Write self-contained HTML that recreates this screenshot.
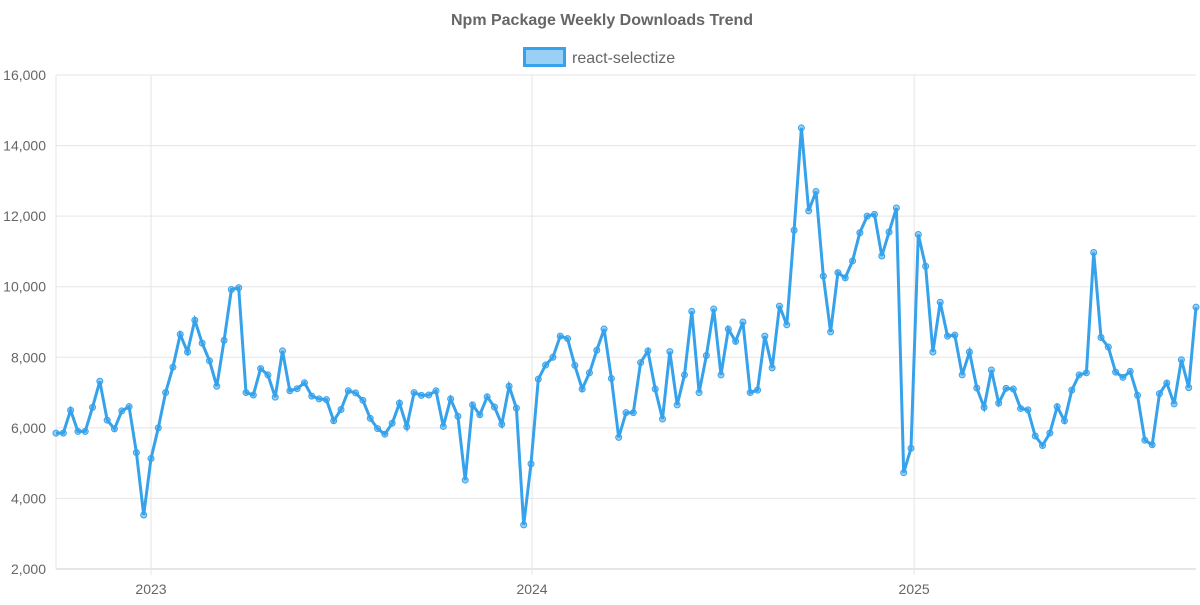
<!DOCTYPE html>
<html><head><meta charset="utf-8"><style>
body{margin:0;background:#fff;font-family:"Liberation Sans",sans-serif}
svg text{font-family:"Liberation Sans",sans-serif}
</style></head><body>
<svg id="chart" width="1200" height="600">
<text x="602" y="25" text-anchor="middle" font-size="16" font-weight="bold" fill="#666">Npm Package Weekly Downloads Trend</text>
<g>
<rect x="524.5" y="48.5" width="40" height="17" fill="rgba(54,162,235,0.5)" stroke="#36a2eb" stroke-width="3"/>
<text x="572" y="63" font-size="16" fill="#666">react-selectize</text>
</g>
<g id="grid"></g><g id="series"></g>
</svg>
<script>
const yTicks=[2000,4000,6000,8000,10000,12000,14000,16000];
const yearLabels=["2023","2024","2025"];
const values=[5850,5850,6500,5900,5900,6580,7320,6220,5970,6480,6600,5300,3530,5130,6000,7000,7720,8650,8150,9050,8400,7900,7180,8480,9920,9970,7000,6930,7680,7500,6870,8180,7050,7110,7280,6900,6820,6800,6200,6520,7050,6990,6780,6270,5980,5820,6130,6700,6030,7000,6920,6930,7050,6040,6820,6330,4520,6650,6370,6880,6590,6100,7180,6560,3250,4980,7380,7780,8000,8600,8530,7770,7100,7560,8200,8800,7400,5730,6430,6430,7850,8180,7100,6250,8160,6650,7500,9300,7000,8050,9370,7500,8800,8450,9000,7000,7070,8600,7700,9450,8920,11600,14500,12150,12700,10300,8720,10400,10250,10730,11530,12000,12050,10870,11550,12230,4730,5420,11480,10580,8150,9560,8600,8630,7500,8150,7130,6580,7640,6700,7120,7100,6550,6510,5770,5500,5850,6600,6200,7070,7500,7560,10970,8560,8290,7580,7430,7600,6920,5650,5520,6970,7270,6680,7930,7140,9420];
const startDate="2022-10-02";
const NS="http://www.w3.org/2000/svg";
const L=56,R=1196,T=75,B=569;
const t0=Date.parse(startDate),W=7*864e5,t1=t0+(values.length-1)*W;
const xT=t=>L+(t-t0)/(t1-t0)*(R-L);
const xi=i=>xT(t0+i*W);
const y=v=>B-(v-2000)/14000*(B-T);
function mk(tag,attrs,parent){const e=document.createElementNS(NS,tag);for(const k in attrs)e.setAttribute(k,attrs[k]);parent.appendChild(e);return e;}
const grid=document.getElementById('grid'),ser=document.getElementById('series');
yTicks.forEach(v=>{
 const l=mk('line',{x1:L,x2:R,y1:y(v),y2:y(v),stroke:v===2000?'#ccc':'#e5e5e5','stroke-width':1},grid);
 
 
 const t=mk('text',{x:46,y:y(v)+5,'text-anchor':'end','font-size':14,fill:'#666'},grid);
 t.textContent=v.toLocaleString('en-US');
 
 
});
mk('line',{x1:L,x2:L,y1:T,y2:B,stroke:'#e5e5e5'},grid);
yearLabels.forEach(yr=>{
 const x=xT(Date.parse(yr+"-01-01"));
 const l=mk('line',{x1:x,x2:x,y1:T,y2:B+6,stroke:'#e5e5e5'},grid);
 
 
 const t=mk('text',{x:x,y:594,'text-anchor':'middle','font-size':14,fill:'#666'},grid);
 t.textContent=yr;
 
 
});
const pts=values.map((v,i)=>xi(i).toFixed(1)+','+y(v).toFixed(1)).join(' ');
const pl=mk('polyline',{points:pts,fill:'none',stroke:'#36a2eb','stroke-width':3,'stroke-linejoin':'miter'},ser);


values.forEach((v,i)=>{
 const c=mk('circle',{cx:xi(i),cy:y(v),r:3,fill:'rgba(54,162,235,0.5)',stroke:'#36a2eb','stroke-width':1},ser);
 
 
});
</script>
</body></html>
